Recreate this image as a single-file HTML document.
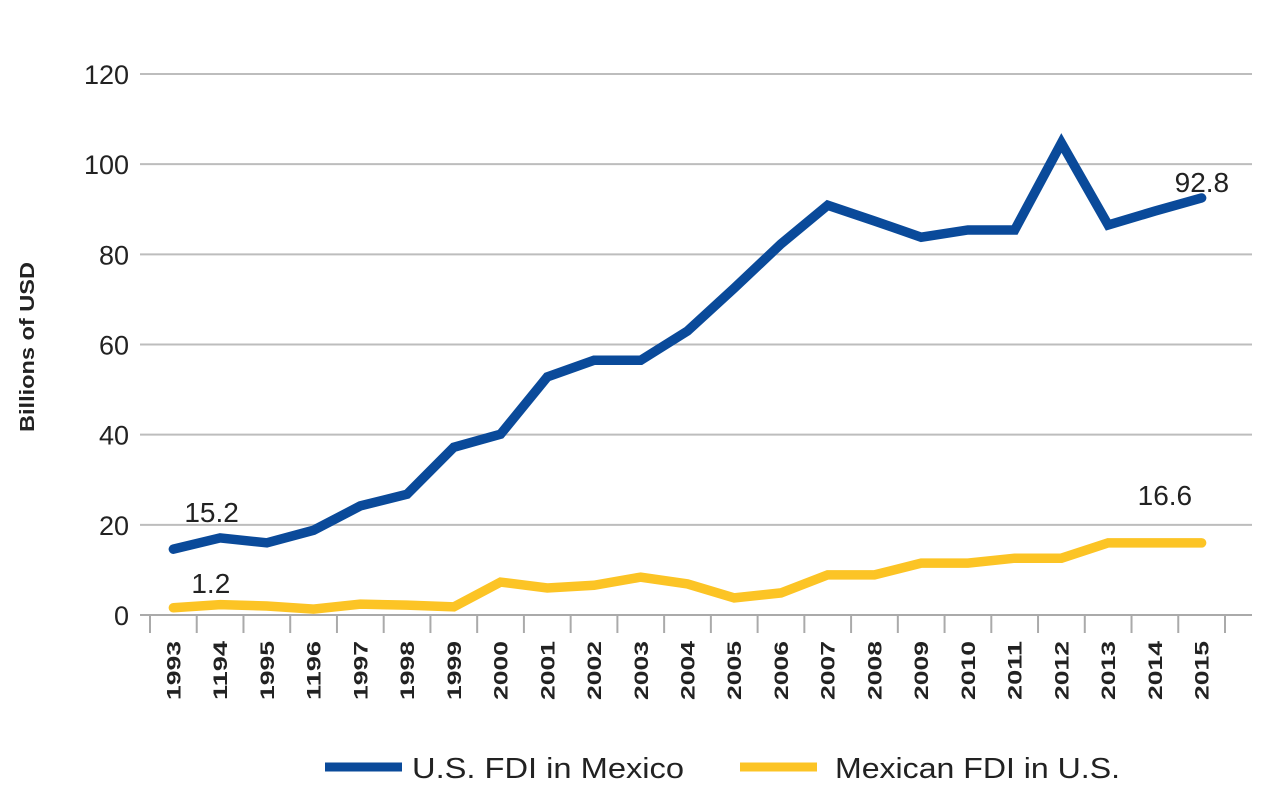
<!DOCTYPE html>
<html><head><meta charset="utf-8"><style>
body{margin:0;background:#fff}
svg text{font-family:"Liberation Sans",sans-serif}
</style></head><body>
<svg id="chart" width="1280" height="803" viewBox="0 0 1280 803">
<g id="grid"></g><g id="axes"></g><g id="series"></g><g id="labels"></g>
<text x="34" y="347" transform="rotate(-90 34 347)" text-anchor="middle" font-size="20" font-weight="bold" fill="#222" textLength="170" lengthAdjust="spacingAndGlyphs">Billions of USD</text>
<g>
<line x1="325" y1="767" x2="402" y2="767" stroke="#0a4a9a" stroke-width="9"/>
<text x="412" y="778" font-size="29" fill="#222" textLength="272" lengthAdjust="spacingAndGlyphs">U.S. FDI in Mexico</text>
<line x1="740" y1="767" x2="817" y2="767" stroke="#fcc425" stroke-width="9"/>
<text x="835" y="778" font-size="29" fill="#222" textLength="285" lengthAdjust="spacingAndGlyphs">Mexican FDI in U.S.</text>
</g>
</svg>
<script>
const categories=["1993","1194","1995","1196","1997","1998","1999","2000","2001","2002","2003","2004","2005","2006","2007","2008","2009","2010","2011","2012","2013","2014","2015"];
const usFdi=[14.6,17.1,16.0,18.8,24.2,26.8,37.2,40.1,52.8,56.5,56.5,63,72.5,82.3,90.9,87.4,83.8,85.4,85.4,104.7,86.5,89.6,92.5];
const mxFdi=[1.6,2.3,2.0,1.3,2.4,2.2,1.8,7.3,6.0,6.6,8.4,6.9,3.8,4.9,8.9,8.9,11.5,11.5,12.6,12.6,16,16,16];
const yTicks=[0,20,40,60,80,100,120];
const annotations=[{s:0,i:0,t:"15.2",dx:11,dy:-27},{s:1,i:0,t:"1.2",dx:18,dy:-15},{s:0,i:22,t:"92.8",dx:-27,dy:-6},{s:1,i:22,t:"16.6",dx:-64,dy:-38}];
const NS="http://www.w3.org/2000/svg";
const x0=150,x1=1225,yBase=615,yTop=74;
const bw=(x1-x0)/categories.length;
const X=i=>x0+bw*(i+0.5);
const Y=v=>yBase-(v/120)*(yBase-yTop);
function mk(tag,attrs,parent){const e=document.createElementNS(NS,tag);for(const k in attrs)e.setAttribute(k,attrs[k]);parent.appendChild(e);return e;}
const grid=document.getElementById('grid'),axes=document.getElementById('axes'),series=document.getElementById('series'),labels=document.getElementById('labels');
yTicks.forEach(v=>{
 const l=mk('line',{x1:140,x2:1252,y1:Y(v),y2:Y(v),stroke:v===0?'#aaa':'#bdbdbd','stroke-width':2},grid);
 
 
 const t=mk('text',{x:129,y:Y(v)+10,'text-anchor':'end','font-size':27,fill:'#222'},axes);
 t.textContent=v;
 
 
});
for(let k=0;k<=categories.length;k++){
 const l=mk('line',{x1:x0+bw*k,x2:x0+bw*k,y1:yBase,y2:633,stroke:'#aaa','stroke-width':2},axes);
 
 
}
categories.forEach((c,i)=>{
 const x=X(i)+7,y=641;
 const t=mk('text',{x:x,y:y,transform:`rotate(-90 ${x} ${y})`,'text-anchor':'end','font-size':19,'font-weight':'bold',fill:'#222',textLength:59,lengthAdjust:'spacingAndGlyphs'},axes);
 t.textContent=c;
 
 
});
const sets=[[usFdi,'#0a4a9a','us-fdi-line'],[mxFdi,'#fcc425','mexican-fdi-line']];
sets.forEach(([d,col,name])=>{
 const p=mk('polyline',{points:d.map((v,i)=>X(i)+','+Y(v)).join(' '),fill:'none',stroke:col,'stroke-width':9.5,'stroke-linejoin':'miter','stroke-linecap':'round'},series);
 
 
});
annotations.forEach(a=>{
 const d=a.s===0?usFdi:mxFdi;
 const t=mk('text',{x:X(a.i)+a.dx,y:Y(d[a.i])+a.dy,'font-size':28,fill:'#222'},labels);
 t.textContent=a.t;
 
 
});
</script>
</body></html>
